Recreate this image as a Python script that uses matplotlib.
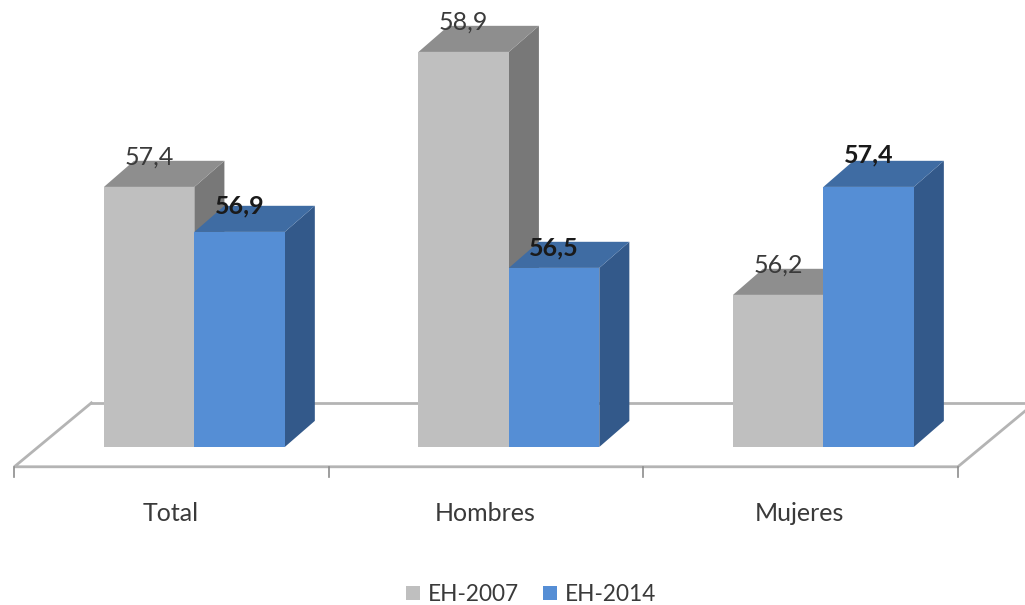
"""Grouped pseudo-3D columns: EH-2007 against EH-2014."""
import matplotlib
matplotlib.use('Agg')
import matplotlib.pyplot as plt
from matplotlib.patches import Patch, Polygon

categories = ['Total', 'Hombres', 'Mujeres']
series_names = ['EH-2007', 'EH-2014']
values_2007 = [57.4, 58.9, 56.2]
values_2014 = [56.9, 56.5, 57.4]
value_labels_2007 = ['57,4', '58,9', '56,2']
value_labels_2014 = ['56,9', '56,5', '57,4']

BASE = 54.51          # value sitting on the floor
BAR_W = 0.2875        # column width in category units
DEPTH_X = 0.0955      # oblique offset of the back faces
DEPTH_Y = 0.29
FLOOR_DX = 0.245
FLOOR_Y0 = 54.29
FLOOR_Y1 = 55.00
LEFT_EDGE = -0.5725   # floor front-left corner
LIFT_2014 = [0.29, 0.22, 0.35]  # label clearance above the blue columns

GRAY = {'front': '#bfbfbf', 'top': '#8e8e8e', 'side': '#787878'}
BLUE = {'front': '#558ed5', 'top': '#3f6ca3', 'side': '#33598a'}
LINE = '#b4b4b4'
TEXT = '#3a3a3a'

plt.rcParams['font.family'] = ['Lato', 'DejaVu Sans']

fig = plt.figure(figsize=(10.25, 6.05), dpi=100)
ax = fig.add_axes([0, 0, 1, 1])
ax.set_xlim(-0.618, 2.641)
ax.set_ylim(52.754, 59.477)
ax.axis('off')


def column(x0, value, colors):
    x1 = x0 + BAR_W
    top = value + DEPTH_Y
    ax.add_patch(Polygon([(x1, BASE), (x1 + DEPTH_X, BASE + DEPTH_Y),
                          (x1 + DEPTH_X, top), (x1, value)], fc=colors['side'], ec='none', zorder=3))
    ax.add_patch(Polygon([(x0, value), (x1, value), (x1 + DEPTH_X, top),
                          (x0 + DEPTH_X, top)], fc=colors['top'], ec='none', zorder=3))
    ax.add_patch(Polygon([(x0, BASE), (x1, BASE), (x1, value), (x0, value)],
                         fc=colors['front'], ec='none', zorder=3))


# floor outline and category ticks
right_edge = LEFT_EDGE + len(categories)
ax.plot([LEFT_EDGE + FLOOR_DX, LEFT_EDGE, right_edge, right_edge + FLOOR_DX],
        [FLOOR_Y1, FLOOR_Y0, FLOOR_Y0, FLOOR_Y1], color=LINE, lw=2, zorder=1,
        solid_joinstyle='miter')
ax.plot([LEFT_EDGE + FLOOR_DX, right_edge + FLOOR_DX], [FLOOR_Y1, FLOOR_Y1],
        color=LINE, lw=2, zorder=1)
for i in range(len(categories) + 1):
    ax.plot([LEFT_EDGE + i] * 2, [FLOOR_Y0, FLOOR_Y0 - 0.11], color='#8c8c8c', lw=1.2, zorder=1)

for i, name in enumerate(categories):
    column(i - BAR_W, values_2007[i], GRAY)
    column(i, values_2014[i], BLUE)
    ax.text(i - 0.075, 53.77, name, ha='center', va='center', fontsize=18, color=TEXT)
    ax.text(i - BAR_W / 2, values_2007[i] + 0.33, value_labels_2007[i], ha='center',
            va='center', fontsize=18, color=TEXT, zorder=5)
    ax.text(i + BAR_W / 2, values_2014[i] + LIFT_2014[i], value_labels_2014[i], ha='center',
            va='center', fontsize=18, fontweight='bold', color='#1a1a1a', zorder=5)

handles = [Patch(fc=GRAY['front'], ec='none'), Patch(fc=BLUE['front'], ec='none')]
ax.legend(handles, series_names, loc='center', bbox_to_anchor=(0.5182, 0.0175), ncol=2,
          frameon=False, fontsize=16.3, labelcolor=TEXT, handlelength=0.62, handleheight=0.62,
          handletextpad=0.35, columnspacing=1.05, borderpad=0, borderaxespad=0)

fig.savefig('out.png', dpi=100, facecolor='white')
